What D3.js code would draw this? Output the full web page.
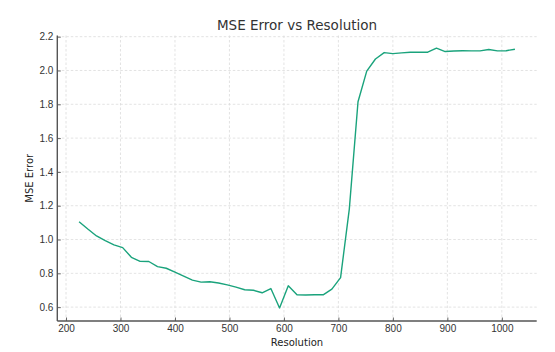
<!DOCTYPE html>
<html lang="en">
<head>
  <meta charset="utf-8">
  <title>MSE Error vs Resolution</title>
  <script src="https://cdn.jsdelivr.net/npm/d3@7"></script>
  <style>
    body { margin: 0; background: #fff; }
    svg { font-family: "DejaVu Sans", sans-serif; }
    .grid line { stroke: #dcdcdc; stroke-width: 0.8; stroke-dasharray: 2.5, 2; }
  </style>
</head>
<body>
  <div id="chart"></div>
  <script>
    var resolutions = [224, 240, 256, 272, 288, 304, 320, 336, 352, 368, 384, 400, 416, 432, 448,
      464, 480, 496, 512, 528, 544, 560, 576, 592, 608, 624, 640, 656, 672, 688, 704, 720, 736,
      752, 768, 784, 800, 816, 832, 848, 864, 880, 896, 912, 928, 944, 960, 976, 992, 1008, 1024];
    var mseErrors = [1.105, 1.062, 1.021, 0.993, 0.968, 0.952, 0.895, 0.871, 0.870, 0.840, 0.830,
      0.807, 0.783, 0.760, 0.748, 0.750, 0.743, 0.732, 0.718, 0.703, 0.700, 0.685, 0.710, 0.595,
      0.726, 0.673, 0.672, 0.673, 0.673, 0.707, 0.775, 1.180, 1.815, 1.996, 2.068, 2.106, 2.100,
      2.104, 2.108, 2.108, 2.108, 2.132, 2.112, 2.115, 2.117, 2.116, 2.116, 2.124, 2.116, 2.117, 2.126];
    var xTicks = [200, 300, 400, 500, 600, 700, 800, 900, 1000];
    var yTicks = [0.6, 0.8, 1.0, 1.2, 1.4, 1.6, 1.8, 2.0, 2.2];

    var width = 555, height = 352;
    var plotLeft = 57.3, plotRight = 536.7, plotTop = 35.5, plotBottom = 321;

    var svg = d3.select('#chart').append('svg')
      .attr('width', width)
      .attr('height', height);

    var x = d3.scaleLinear().domain([184, 1064]).range([plotLeft, plotRight]);
    var y = d3.scaleLinear().domain([0.518, 2.207]).range([plotBottom, plotTop]);

    // grid
    svg.append('g').attr('class', 'grid')
      .selectAll('line').data(xTicks).enter().append('line')
      .attr('x1', d => x(d)).attr('x2', d => x(d))
      .attr('y1', plotTop).attr('y2', plotBottom);
    svg.append('g').attr('class', 'grid')
      .selectAll('line').data(yTicks).enter().append('line')
      .attr('x1', plotLeft).attr('x2', plotRight)
      .attr('y1', d => y(d)).attr('y2', d => y(d));

    // axes, ticks pointing inward
    var xAxis = svg.append('g')
      .attr('transform', 'translate(0,' + plotBottom + ')')
      .call(d3.axisBottom(x).tickValues(xTicks).tickSize(-3.5).tickPadding(4).tickFormat(d3.format('d')));
    var yAxis = svg.append('g')
      .attr('transform', 'translate(' + plotLeft + ',0)')
      .call(d3.axisLeft(y).tickValues(yTicks).tickSize(-3.5).tickPadding(4).tickFormat(d3.format('.1f')));

    [xAxis, yAxis].forEach(function (a) {
      a.select('.domain').attr('stroke', '#555').attr('stroke-width', 1.4);
      a.selectAll('.tick line').attr('stroke', '#555').attr('stroke-width', 0.9);
      a.selectAll('text').attr('fill', '#333').style('font-size', '10px');
    });
    xAxis.select('.domain').attr('d', 'M' + plotLeft + ',0H' + plotRight);
    yAxis.select('.domain').attr('d', 'M0,' + plotTop + 'V' + plotBottom);

    // line
    var line = d3.line()
      .x((d, i) => x(resolutions[i]))
      .y(d => y(d));
    svg.append('path')
      .datum(mseErrors)
      .attr('d', line)
      .attr('fill', 'none')
      .attr('stroke', '#1aa37c')
      .attr('stroke-width', 1.4)
      .attr('stroke-linejoin', 'round');

    // labels
    svg.append('text')
      .attr('x', (plotLeft + plotRight) / 2).attr('y', 30)
      .attr('text-anchor', 'middle')
      .attr('fill', '#333')
      .style('font-size', '13.5px')
      .text('MSE Error vs Resolution');
    svg.append('text')
      .attr('x', (plotLeft + plotRight) / 2).attr('y', 346)
      .attr('text-anchor', 'middle')
      .attr('fill', '#222')
      .style('font-size', '10px')
      .text('Resolution');
    svg.append('text')
      .attr('transform', 'translate(33,' + (plotTop + plotBottom) / 2 + ') rotate(-90)')
      .attr('text-anchor', 'middle')
      .attr('fill', '#222')
      .style('font-size', '10px')
      .text('MSE Error');
  </script>
</body>
</html>
